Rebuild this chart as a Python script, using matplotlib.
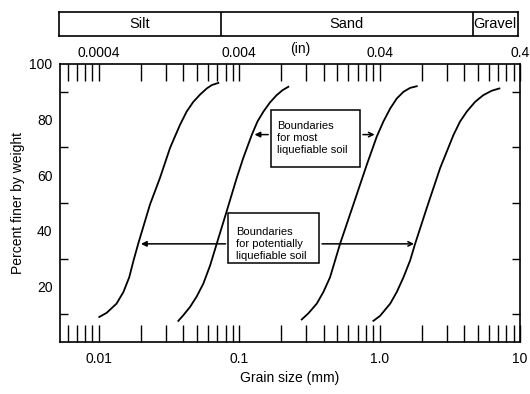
import matplotlib
matplotlib.use("Agg")
import matplotlib.pyplot as plt
from matplotlib.patches import Rectangle
from matplotlib.ticker import LogLocator, FixedLocator, NullFormatter, NullLocator

plt.rcParams['font.family'] = ['Liberation Sans', 'DejaVu Sans']

# grain size (mm) and percent finer
c1_x = [0.0101, 0.0114, 0.0134, 0.0150, 0.0165, 0.0177, 0.0191, 0.0232, 0.0273, 0.0322,
        0.0379, 0.0423, 0.0472, 0.0527, 0.0588, 0.0638, 0.0711]
c1_y = [9.0, 10.5, 13.8, 18.0, 23.3, 29.3, 35.3, 49.5, 59.0, 69.8,
        78.1, 82.9, 86.4, 89.0, 91.2, 92.4, 93.2]

c2_x = [0.0369, 0.0400, 0.0447, 0.0499, 0.0556, 0.0621, 0.0692, 0.0816, 0.0961, 0.107,
        0.123, 0.135, 0.149, 0.166, 0.185, 0.204, 0.224]
c2_y = [7.6, 9.6, 12.6, 16.4, 21.0, 27.5, 35.3, 47.1, 59.0, 66.2,
        74.5, 79.3, 82.9, 86.2, 88.8, 90.6, 91.8]

c3_x = [0.279, 0.311, 0.357, 0.398, 0.444, 0.482, 0.523, 0.651, 0.811, 0.955,
        1.064, 1.19, 1.326, 1.48, 1.649, 1.84]
c3_y = [8.1, 10.3, 13.8, 18.0, 23.3, 29.3, 35.3, 49.5, 63.8, 73.9,
        79.3, 84.0, 87.6, 90.0, 91.4, 92.0]

c4_x = [0.903, 1.008, 1.19, 1.326, 1.48, 1.649, 1.79, 2.17, 2.70, 3.36,
        3.74, 4.18, 4.79, 5.48, 6.30, 7.13]
c4_y = [7.6, 9.4, 13.8, 18.0, 23.3, 29.3, 35.3, 48.3, 62.6, 74.5,
        79.3, 82.9, 86.4, 88.8, 90.4, 91.2]

# soil classes (mm)
soil_names = ["Silt", "Sand", "Gravel"]
soil_edges = [0.00526, 0.075, 4.75, 10.0]

bottom_ticks = [0.01, 0.1, 1.0, 10.0]
bottom_labels = ["0.01", "0.1", "1.0", "10"]
top_labels = ["0.0004", "0.004", "0.04", "0.4"]

fig = plt.figure(figsize=(5.3, 3.94), dpi=100)
ax = fig.add_axes([0.1123, 0.132, 0.8689, 0.7056])

for xs, ys in [(c1_x, c1_y), (c2_x, c2_y), (c3_x, c3_y), (c4_x, c4_y)]:
    ax.plot(xs, ys, color='black', lw=1.3, solid_joinstyle='round')

ax.set_xscale('log')
ax.set_xlim(0.00526, 10.0)
ax.set_ylim(0, 100)

ax.xaxis.set_major_locator(FixedLocator(bottom_ticks))
ax.set_xticklabels(bottom_labels)
ax.xaxis.set_minor_locator(LogLocator(base=10, subs=range(2, 10)))
ax.xaxis.set_minor_formatter(NullFormatter())
ax.tick_params(axis='x', which='both', direction='in', top=True, length=12,
               width=1.0, labelsize=10, pad=7)

ax.set_yticks([20, 40, 60, 80, 100])
ax.set_yticks(range(10, 100, 10), minor=True)
ax.tick_params(axis='y', which='both', direction='in', right=True, length=6,
               width=1.0, labelsize=10, pad=5)
ax.tick_params(axis='y', which='major', length=0)
ax.yaxis.set_minor_formatter(NullFormatter())
for s in ax.spines.values():
    s.set_linewidth(1.2)

ax.set_xlabel("Grain size (mm)", fontsize=10, labelpad=4)
ax.set_ylabel("Percent finer by weight", fontsize=10, labelpad=3)

# inch scale on top (labels sit over the mm decades)
sec = ax.secondary_xaxis('top')
sec.xaxis.set_major_locator(FixedLocator(bottom_ticks))
sec.set_xticklabels(top_labels)
sec.xaxis.set_minor_locator(NullLocator())
sec.tick_params(axis='x', which='both', length=0, labelsize=10, pad=3)
sec.spines['top'].set_visible(False)
fig.text(0.566, 0.875, "(in)", fontsize=10, ha='center', va='center')

# boxes with arrows
ax.add_patch(Rectangle((0.1686, 62.9), 0.727 - 0.1686, 83.5 - 62.9,
                       fill=False, edgecolor='black', lw=1.1))
ax.text(0.186, 73.2, "Boundaries\nfor most\nliquefiable soil", fontsize=8,
        ha='left', va='center', linespacing=1.25)
ax.annotate("", xy=(0.123, 74.6), xytext=(0.1686, 74.6),
            arrowprops=dict(arrowstyle='-|>', color='black', lw=1.1, mutation_scale=8))
ax.annotate("", xy=(0.965, 74.6), xytext=(0.727, 74.6),
            arrowprops=dict(arrowstyle='->', color='black', lw=1.1, mutation_scale=8))

ax.add_patch(Rectangle((0.0838, 28.5), 0.372 - 0.0838, 46.25 - 28.5,
                       fill=False, edgecolor='black', lw=1.1))
ax.text(0.0951, 35.4, "Boundaries\nfor potentially\nliquefiable soil", fontsize=8,
        ha='left', va='center', linespacing=1.25)
ax.annotate("", xy=(0.0191, 35.3), xytext=(0.0838, 35.3),
            arrowprops=dict(arrowstyle='-|>', color='black', lw=1.1, mutation_scale=8))
ax.annotate("", xy=(1.84, 35.3), xytext=(0.372, 35.3),
            arrowprops=dict(arrowstyle='->', color='black', lw=1.1, mutation_scale=8))

# soil class band
band = fig.add_axes([0.1113, 0.9086, 0.8660, 0.0609])
band.set_xscale('log')
band.set_xlim(0.00526, 10.0)
band.set_ylim(0, 1)
band.set_xticks([])
band.set_yticks([])
band.xaxis.set_minor_locator(NullLocator())
for s in band.spines.values():
    s.set_linewidth(1.2)
for e in soil_edges[1:-1]:
    band.axvline(e, color='black', lw=1.2)
for i, name in enumerate(soil_names):
    xc = (soil_edges[i] * soil_edges[i + 1]) ** 0.5
    band.text(xc, 0.5, name, ha='center', va='center', fontsize=10.5)

fig.savefig("out.png", dpi=100)
